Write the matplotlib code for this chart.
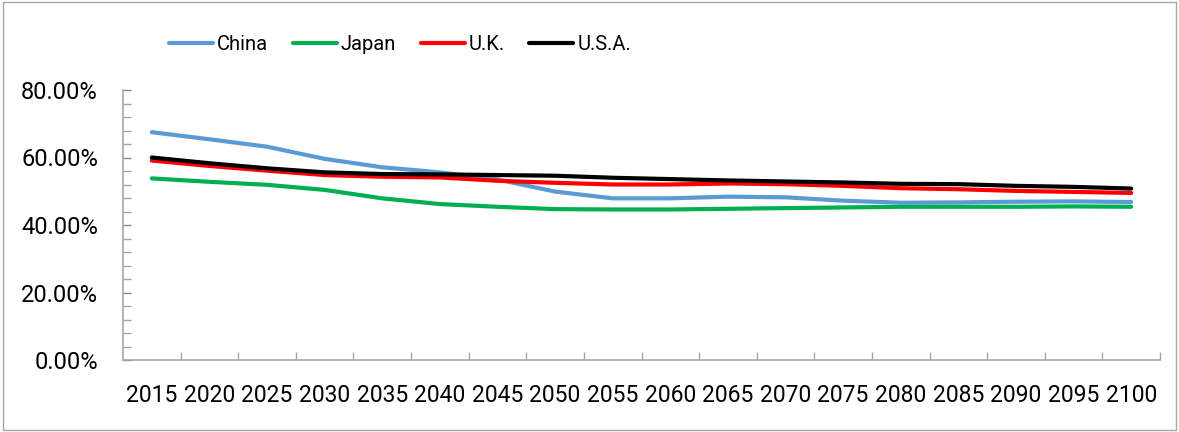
import matplotlib
matplotlib.use("Agg")
import matplotlib.pyplot as plt
from matplotlib.ticker import MultipleLocator, PercentFormatter
from matplotlib.patches import Rectangle

plt.rcParams["font.family"] = ["Roboto", "DejaVu Sans"]

years = ["2015", "2020", "2025", "2030", "2035", "2040", "2045", "2050", "2055",
         "2060", "2065", "2070", "2075", "2080", "2085", "2090", "2095", "2100"]

china = [67.5, 65.4, 63.2, 59.6, 57.1, 55.6, 53.5, 49.9, 47.9,
         47.9, 48.4, 48.2, 47.2, 46.6, 46.7, 46.9, 47.0, 46.8]
japan = [53.8, 52.8, 51.9, 50.4, 47.9, 46.2, 45.4, 44.7, 44.6,
         44.6, 44.8, 45.0, 45.2, 45.4, 45.4, 45.4, 45.5, 45.4]
uk = [59.1, 57.5, 56.1, 54.8, 54.3, 54.1, 53.1, 52.5, 52.0,
      52.0, 52.3, 52.1, 51.6, 50.9, 50.6, 50.1, 49.8, 49.5]
usa = [60.0, 58.3, 56.8, 55.6, 55.1, 55.0, 54.8, 54.6, 54.0,
       53.6, 53.2, 52.9, 52.6, 52.2, 52.1, 51.6, 51.3, 50.8]

series = [("China", china, "#5B9BD5"),
          ("Japan", japan, "#00B050"),
          ("U.K.", uk, "#FF0000"),
          ("U.S.A.", usa, "#000000")]

W, H = 1179, 432
fig = plt.figure(figsize=(W / 100, H / 100), dpi=100)
fig.patches.append(Rectangle((3 / W, 2 / H), 1 - 6 / W, 1 - 4 / H,
                             transform=fig.transFigure, fill=False,
                             edgecolor="#A6A6A6", linewidth=1))

ax = fig.add_axes([123 / W, 1 - 360 / H, (1160 - 123) / W, (360 - 90) / H])

x = list(range(len(years)))
for name, vals, color in series:
    ax.plot(x, vals, color=color, linewidth=3, label=name,
            solid_capstyle="round", solid_joinstyle="round")

ax.set_xlim(-0.5, len(years) - 0.5)
ax.set_ylim(0, 80)
ax.yaxis.set_major_locator(MultipleLocator(20))
ax.yaxis.set_minor_locator(MultipleLocator(4))
ax.yaxis.set_major_formatter(PercentFormatter(decimals=2))

# category labels at centers, tick marks on category boundaries
ax.set_xticks(x)
ax.set_xticklabels(years)
ax.set_xticks([i + 0.5 for i in x], minor=True)
ax.tick_params(axis="x", which="major", length=0, pad=17, labelsize=16.5)
ax.tick_params(axis="x", which="minor", direction="in", length=6,
               color="#A6A6A6", width=1)
ax.tick_params(axis="y", which="major", direction="in", length=6,
               color="#868686", width=1, pad=18, labelsize=17)
ax.tick_params(axis="y", which="minor", direction="in", length=6,
               color="#A6A6A6", width=1)

for side in ("top", "right"):
    ax.spines[side].set_visible(False)
for side in ("left", "bottom"):
    ax.spines[side].set_color("#A6A6A6")
    ax.spines[side].set_linewidth(1.2)

fig.legend(loc="center left", bbox_to_anchor=(169 / W, 1 - 45 / H), ncol=4,
           frameon=False, fontsize=14.5, handlelength=2.2, handletextpad=0.2,
           columnspacing=1.2, borderpad=0, borderaxespad=0)

fig.savefig("out.png", dpi=100)
